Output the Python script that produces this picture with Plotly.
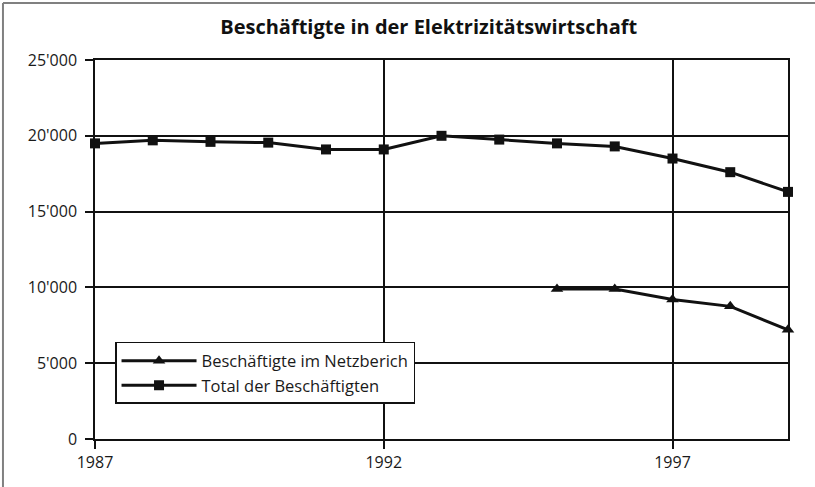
import plotly.graph_objects as go

years_total = [1987, 1988, 1989, 1990, 1991, 1992, 1993, 1994, 1995, 1996, 1997, 1998, 1999]
total = [19500, 19700, 19600, 19550, 19100, 19100, 20000, 19750, 19500, 19300, 18500, 17600, 16300]

years_netz = [1995, 1996, 1997, 1998, 1999]
netz = [9900, 9900, 9200, 8750, 7200]

x_ticks = [1987, 1992, 1997]
y_ticks = [0, 5000, 10000, 15000, 20000, 25000]
y_labels = ["0", "5'000", "10'000", "15'000", "20'000", "25'000"]

FONT = "Open Sans, Lato, sans-serif"

fig = go.Figure()
fig.add_trace(go.Scatter(
    x=years_netz, y=netz, mode="lines+markers", name="Beschäftigte im Netzberich",
    line=dict(color="#111111", width=3),
    marker=dict(symbol="triangle-up", size=11, color="#111111"),
    cliponaxis=False,
))
fig.add_trace(go.Scatter(
    x=years_total, y=total, mode="lines+markers", name="Total der Beschäftigten",
    line=dict(color="#111111", width=3),
    marker=dict(symbol="square", size=10, color="#111111"),
    cliponaxis=False,
))

fig.update_layout(
    width=815, height=487,
    margin=dict(l=95, r=27, t=60, b=48),
    paper_bgcolor="white", plot_bgcolor="white",
    font=dict(family=FONT, size=16, color="#1a1a1a"),
    title=dict(text="<b>Beschäftigte in der Elektrizitätswirtschaft</b>",
               x=0.526, xanchor="center", y=0.945, yanchor="middle",
               font=dict(family=FONT, size=20, color="#111111")),
    showlegend=True,
    legend=dict(x=0.0289, y=0.256, xanchor="left", yanchor="top",
                bgcolor="white", bordercolor="#111111", borderwidth=1.5,
                font=dict(family=FONT, size=16.5, color="#1a1a1a"),
                itemwidth=75, tracegroupgap=2),
    xaxis=dict(range=[1987, 1999], tickvals=x_ticks, ticktext=[str(v) for v in x_ticks],
               showgrid=True, gridcolor="#111111", gridwidth=1.5,
               showline=True, linecolor="#111111", linewidth=1.5, mirror=True,
               ticks="outside", ticklen=8, tickcolor="#111111", tickwidth=1.5,
               zeroline=False, tickfont=dict(size=16)),
    yaxis=dict(range=[0, 25000], tickvals=y_ticks, ticktext=y_labels,
               showgrid=True, gridcolor="#111111", gridwidth=1.5,
               showline=True, linecolor="#111111", linewidth=1.5, mirror=True,
               ticks="outside", ticklen=8, tickcolor="#111111", tickwidth=1.5,
               ticklabelstandoff=5,
               zeroline=False, tickfont=dict(size=16)),
    shapes=[
        dict(type="line", xref="paper", yref="paper",
             x0=-0.1328, x1=1.3, y0=1.1504, y1=1.1504,
             line=dict(color="#808080", width=2), layer="below"),
        dict(type="line", xref="paper", yref="paper",
             x0=-0.1328, x1=-0.1328, y0=-0.4, y1=1.1504,
             line=dict(color="#808080", width=2), layer="below"),
    ],
)

fig.write_html("out.html", config={"displayModeBar": False},
               post_script="document.body.style.margin='0';")
